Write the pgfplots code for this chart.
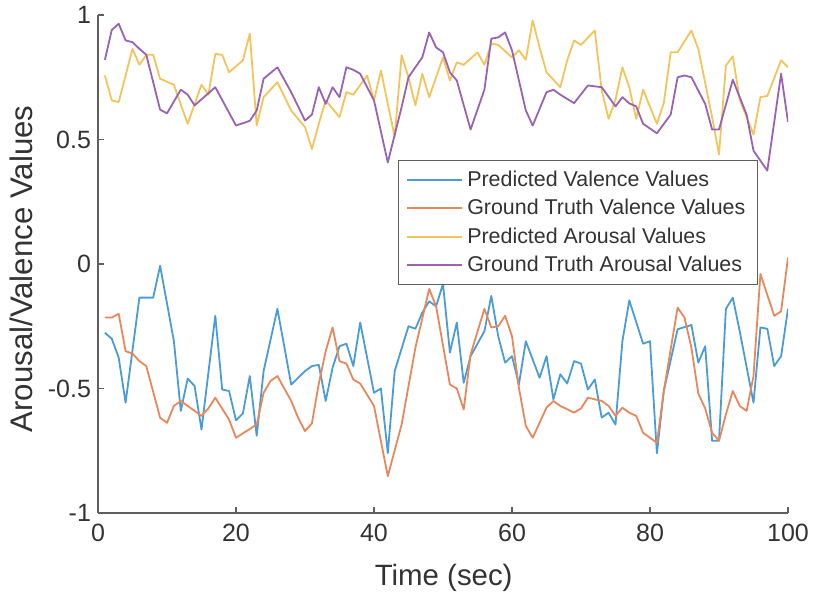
\documentclass[border=0pt]{standalone}
\usepackage{fontspec}
\setmainfont{Liberation Sans}
\usepackage{pgfplots}
\pgfplotsset{compat=1.18}
\definecolor{pvblue}{HTML}{4A9CD6}
\definecolor{gvorange}{HTML}{E8875C}
\definecolor{payellow}{HTML}{F2C45A}
\definecolor{gapurple}{HTML}{9A62B0}
\definecolor{axgray}{HTML}{5E5E5E}
\definecolor{txgray}{HTML}{333333}

\begin{document}
\begin{tikzpicture}
\path[use as bounding box] (-49pt,-43.5pt) rectangle (357.5pt,256.5pt);
\begin{axis}[
  at={(0,0)}, anchor=south west,
  scale only axis, width=345pt, height=249pt,
  xmin=0, xmax=100, ymin=-1, ymax=1,
  axis x line*=bottom, axis y line*=left,
  axis line style={color=axgray, line width=0.9pt},
  tick style={color=axgray, line width=0.6pt},
  tick align=inside, major tick length=3pt,
  xtick={0,20,40,60,80,100}, xticklabels={0,20,40,60,80,100},
  ytick={-1,-0.5,0,0.5,1}, yticklabels={-1,-0.5,0,0.5,1},
  tick label style={font=\fontsize{12.5}{15}\selectfont, color=txgray},
  xticklabel style={yshift=-2pt},
  xlabel={Time (sec)}, ylabel={Arousal/Valence Values},
  xlabel style={font=\fontsize{14.7}{17}\selectfont, color=txgray,
    at={(axis description cs:0.501,-0.1305)}, anchor=center},
  ylabel style={font=\fontsize{15.6}{18}\selectfont, color=txgray,
    at={(axis description cs:-0.1116,0.49)}, anchor=center},
  legend style={at={(axis description cs:0.9565,0.7088)}, anchor=north east,
    draw=axgray, line width=0.7pt, fill=white, font=\fontsize{10.7}{12}\selectfont,
    text=txgray, row sep=1pt, inner xsep=4pt, inner ysep=3pt},
  legend cell align=left,
  legend image code/.code={\draw[#1, line width=1pt] (0pt,0pt) -- (27.5pt,0pt);},
  every axis plot/.append style={line width=0.9pt, line join=round},
]
% predicted valence
\addplot[color=pvblue] coordinates {
 (1,-0.276) (2,-0.30) (3,-0.376) (4,-0.557) (6,-0.135) (8,-0.135) (9,-0.007)
 (11,-0.31) (12,-0.59) (13,-0.46) (14,-0.49) (15,-0.665) (17,-0.208) (18,-0.504)
 (19,-0.51) (20,-0.628) (21,-0.60) (22,-0.45) (23,-0.69) (24,-0.43) (26,-0.18)
 (28,-0.484) (30,-0.43) (31,-0.41) (32,-0.405) (33,-0.55) (34,-0.416) (35,-0.33)
 (36,-0.32) (37,-0.41) (38,-0.235) (40,-0.517) (41,-0.50) (42,-0.76) (43,-0.43)
 (45,-0.25) (46,-0.26) (47,-0.195) (48,-0.15) (49,-0.17) (50,-0.08) (51,-0.356)
 (52,-0.235) (53,-0.477) (54,-0.37) (56,-0.27) (57,-0.128) (58,-0.29) (59,-0.396)
 (60,-0.37) (61,-0.484) (62,-0.31) (64,-0.457) (65,-0.37) (66,-0.544) (67,-0.443)
 (68,-0.48) (69,-0.39) (70,-0.40) (71,-0.504) (72,-0.464) (73,-0.617) (74,-0.597)
 (75,-0.645) (76,-0.31) (77,-0.146) (79,-0.32) (80,-0.31) (81,-0.76) (82,-0.51)
 (84,-0.262) (86,-0.245) (87,-0.396) (88,-0.33) (89,-0.71) (90,-0.71) (91,-0.18)
 (92,-0.135) (93,-0.27) (95,-0.557) (96,-0.255) (97,-0.26) (98,-0.41) (99,-0.37)
 (100,-0.18)};
\addlegendentry{Predicted Valence Values}
% ground truth valence
\addplot[color=gvorange] coordinates {
 (1,-0.215) (2,-0.215) (3,-0.20) (4,-0.35) (5,-0.36) (6,-0.39) (7,-0.41) (9,-0.617)
 (10,-0.638) (11,-0.57) (12,-0.55) (14,-0.59) (15,-0.61) (16,-0.58) (17,-0.537)
 (19,-0.625) (20,-0.698) (21,-0.68) (23,-0.645) (24,-0.517) (25,-0.47) (26,-0.45)
 (28,-0.55) (29,-0.617) (30,-0.671) (31,-0.64) (32,-0.48) (33,-0.35) (34,-0.255)
 (35,-0.39) (36,-0.40) (37,-0.464) (38,-0.48) (40,-0.57) (42,-0.852) (44,-0.645)
 (46,-0.336) (48,-0.10) (49,-0.17) (51,-0.484) (52,-0.50) (53,-0.584) (54,-0.363)
 (56,-0.18) (57,-0.255) (58,-0.25) (59,-0.208) (60,-0.29) (61,-0.497) (62,-0.65)
 (63,-0.698) (65,-0.577) (66,-0.55) (67,-0.57) (69,-0.597) (70,-0.58) (71,-0.537)
 (73,-0.55) (74,-0.57) (75,-0.61) (76,-0.577) (77,-0.597) (78,-0.61) (79,-0.678)
 (81,-0.718) (82,-0.51) (84,-0.175) (85,-0.215) (86,-0.336) (87,-0.52) (88,-0.58)
 (89,-0.678) (90,-0.71) (91,-0.604) (92,-0.51) (93,-0.57) (94,-0.59) (95,-0.45)
 (96,-0.04) (98,-0.208) (99,-0.19) (100,0.026)};
\addlegendentry{Ground Truth Valence Values}
% predicted arousal
\addplot[color=payellow] coordinates {
 (1,0.757) (2,0.657) (3,0.65) (5,0.864) (6,0.80) (7,0.84) (8,0.84) (9,0.744)
 (11,0.72) (12,0.64) (13,0.563) (15,0.72) (16,0.68) (17,0.844) (18,0.84) (19,0.77)
 (21,0.818) (22,0.925) (23,0.556) (24,0.67) (26,0.73) (28,0.616) (30,0.55) (31,0.462)
 (32,0.563) (33,0.657) (35,0.59) (36,0.69) (37,0.68) (39,0.757) (40,0.657) (41,0.777)
 (43,0.51) (44,0.838) (45,0.75) (46,0.637) (47,0.764) (48,0.67) (50,0.83) (51,0.737)
 (52,0.81) (53,0.80) (55,0.85) (56,0.80) (57,0.885) (58,0.88) (60,0.83) (61,0.858)
 (62,0.82) (63,0.978) (64,0.87) (65,0.77) (67,0.71) (68,0.818) (69,0.898) (70,0.88)
 (72,0.938) (73,0.697) (74,0.583) (75,0.66) (76,0.79) (77,0.71) (78,0.583) (79,0.70)
 (81,0.563) (82,0.646) (83,0.85) (84,0.85) (86,0.938) (87,0.864) (89,0.59) (90,0.44)
 (91,0.797) (92,0.834) (93,0.66) (95,0.52) (96,0.67) (97,0.675) (99,0.818) (100,0.79)};
\addlegendentry{Predicted Arousal Values}
% ground truth arousal
\addplot[color=gapurple] coordinates {
 (1,0.82) (2,0.94) (3,0.965) (4,0.898) (5,0.891) (6,0.864) (7,0.84) (9,0.62)
 (10,0.605) (12,0.70) (13,0.68) (14,0.637) (17,0.71) (20,0.556) (22,0.575) (23,0.616)
 (24,0.744) (26,0.79) (28,0.69) (30,0.576) (31,0.60) (32,0.71) (33,0.643) (34,0.71)
 (35,0.67) (36,0.79) (37,0.78) (38,0.764) (40,0.657) (42,0.408) (44,0.63) (45,0.75)
 (47,0.83) (48,0.93) (49,0.87) (50,0.85) (51,0.77) (52,0.737) (54,0.54) (56,0.70)
 (57,0.905) (58,0.91) (59,0.93) (60,0.858) (62,0.617) (63,0.556) (65,0.69) (66,0.70)
 (67,0.68) (69,0.646) (71,0.717) (73,0.71) (75,0.633) (76,0.67) (77,0.645) (78,0.633)
 (79,0.563) (81,0.525) (83,0.60) (84,0.75) (85,0.757) (86,0.75) (88,0.643) (89,0.54)
 (90,0.54) (92,0.74) (94,0.60) (95,0.455) (97,0.375) (99,0.764) (100,0.57)};
\addlegendentry{Ground Truth Arousal Values}
\end{axis}
\end{tikzpicture}
\end{document}
